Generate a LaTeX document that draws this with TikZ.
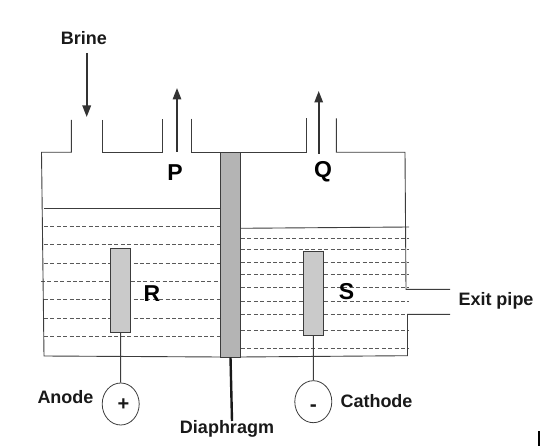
\documentclass[tikz,border=0pt]{standalone}
\usepackage{fontspec}
\setmainfont{Liberation Sans}
\usepackage{xcolor}
\usetikzlibrary{shapes.geometric, arrows.meta, positioning}
\definecolor{wallcolor}{HTML}{3C3C3C}
\definecolor{diaphcolor}{HTML}{B4B4B4}
\definecolor{rodcolor}{HTML}{CACACA}

\begin{document}
\begin{tikzpicture}[
    x=1pt, y=-1pt,
    wall/.style={draw=wallcolor, line width=0.9pt},
    level/.style={draw=wallcolor!85, line width=0.7pt, dash pattern=on 4pt off 2.4pt},
    rod/.style={rectangle, draw=wallcolor, fill=rodcolor, line width=0.9pt, minimum width=20pt, minimum height=84pt, inner sep=0pt},
    terminal/.style={ellipse, draw=wallcolor, fill=white, line width=0.8pt, minimum width=37pt, minimum height=42pt, inner sep=0pt},
    label/.style={font=\fontsize{18}{18}\bfseries, text=black!90, inner sep=0pt},
    letter/.style={font=\fontsize{23}{23}\bfseries, inner sep=0pt},
    arrow/.style={-{Triangle[length=11.5pt,width=8.5pt]}, line width=1.6pt, draw=black!80}
]
\useasboundingbox (0,0) rectangle (543,446);
% water levels
\draw[wall] (44,208) -- (222,208);
\draw[wall] (240,228.3) -- (409,227);
\foreach \y in {226,244.7,263,299.3,318,336.3} {
    \draw[level] (44,\y) -- (220,\y);
}
\draw[level] (41,281.3) -- (218,281.3);
\foreach \y in {238.3,249.3,262,274,287.3,301,314,330.3,348} {
    \draw[level] (241,\y) -- (409,\y);
}
% tank
\draw[wall] (71.3,120) -- (71.3,152.3) -- (41.5,152.3) -- (44,356) -- (220.7,357);
\draw[wall] (102.3,120) -- (102.3,152.3) -- (162.7,152.3) -- (162.7,118.7);
\draw[wall] (191,118.7) -- (191,152.3) -- (306.3,152.3) -- (306.3,118.3);
\draw[wall] (336.3,118.3) -- (336.3,152.3) -- (405,152.3) -- (406,289.3) -- (450,289.3);
\draw[wall] (450,314.3) -- (407.5,314.3) -- (407.5,355.7) -- (240,357);
\node[rectangle, draw=wallcolor, fill=diaphcolor, line width=0.9pt, minimum width=19.6pt, minimum height=204.7pt, inner sep=0pt] (diaph) at (230.5,254.7) {};
% electrodes
\node[rod] (rodR) at (120.5,290.3) {};
\node[rod] (rodS) at (313.5,293.2) {};
\node[terminal] (plus) at (120.7,404) {};
\node[terminal] (minus) at (313.3,401.7) {};
\draw[wall] (rodR) -- (plus);
\draw[wall] (rodS) -- (minus);
\node[label, font=\fontsize{20}{20}\bfseries] (plussign) at (123.5,405) {+};
\node[label, font=\fontsize{21}{21}\bfseries] (minussign) at (313.3,408) {-};
% labels
\node[label] (brine) at (84,38) {Brine};
\node[label] (anode) at (65.5,397) {Anode};
\node[label] (cathode) at (376.5,401) {Cathode};
\node[label] (diaphlabel) at (227,429) {Diaphragm};
\node[label] (exit) at (496,301) {Exit pipe};
\node[letter] (P) at (175,172.5) {P};
\node[letter] (Q) at (323,172) {Q};
\node[letter] (R) at (152,293.5) {R};
\node[letter] (S) at (346.5,291.5) {S};
% arrows
\coordinate (brinetail) at (86.7,53);
\coordinate (brinehead) at (86.7,117);
\coordinate (Ptail) at (177,151.7);
\coordinate (Phead) at (177,88);
\coordinate (Qtail) at (318.7,154);
\coordinate (Qhead) at (318.7,91);
\coordinate (diaphfoot) at (232,421);
\draw[arrow] (brinetail) -- (brinehead);
\draw[arrow] (Ptail) -- (Phead);
\draw[arrow] (Qtail) -- (Qhead);
\draw[line width=2.4pt, draw=black!90] (diaph.south) -- (diaphfoot);
% corner mark
\node[rectangle, fill=black, minimum width=2pt, minimum height=15pt, inner sep=0pt] (mark) at (539,438.5) {};
\end{tikzpicture}
\end{document}
